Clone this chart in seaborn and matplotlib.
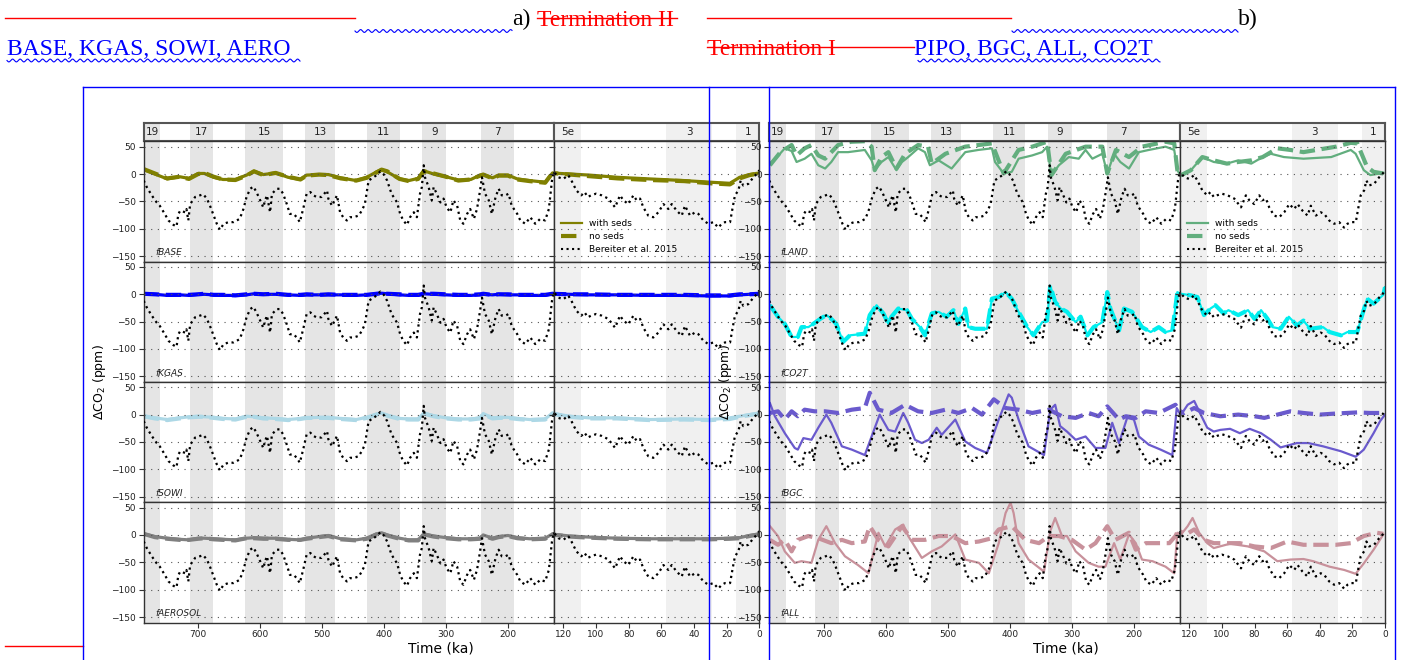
import numpy as np
import matplotlib
matplotlib.use("Agg")
import matplotlib.pyplot as plt
from matplotlib.lines import Line2D
import seaborn as sns

# ---------------------------------------------------------------- data
# Bereiter et al. 2015 (delta CO2 relative to pre-industrial, ppm) vs age (ka)
BER = [(788,-12),(783,-24),(775,-39),(767,-52),(762,-58),(754,-73),(748,-85),(740,-93),(735,-96),
       (732,-73),(729,-67),(721,-70),(719,-64),(716,-85),(713,-55),(705,-42),(697,-39),(692,-37),
       (686,-45),(681,-58),(676,-73),(670,-91),(665,-102),(659,-91),(651,-88),(643,-88),(633,-82),
       (627,-64),(622,-42),(616,-27),(611,-23),(606,-33),(600,-48),(595,-61),(592,-48),(589,-39),
       (584,-70),(581,-36),(573,-27),(568,-27),(563,-36),(557,-55),(552,-73),(546,-73),(541,-79),
       (536,-88),(530,-61),(525,-36),(519,-33),(514,-39),(509,-42),(501,-42),(492,-30),(490,-45),
       (484,-58),(476,-39),(471,-70),(466,-79),(460,-85),(455,-79),(449,-79),(441,-76),(436,-67),
       (431,-55),(425,-12),(417,-6),(412,-2),(406,5),(401,0),(395,-12),(388,-36),(379,-52),(374,-73),
       (369,-85),(363,-93),(358,-79),(352,-70),(347,-79),(342,-36),(339,-24),(336,16),(334,-6),
       (328,-24),(323,-48),(320,-24),(315,-36),(309,-52),(304,-45),(299,-61),(293,-70),(288,-48),
       (282,-58),(277,-85),(272,-91),(266,-73),(261,-64),(255,-82),(250,-64),(245,-30),(242,-6),
       (237,-36),(231,-48),(226,-73),(220,-42),(215,-27),(210,-39),(204,-39),(199,-36),(194,-58),
       (185,-73),(180,-85),(172,-91),(164,-79),(156,-91),(148,-82),(140,-85),(134,-64),(129,-12),
       (126,5),(123,-6),(120,-9),(117,-2),(115,-12),(112,-30),(109,-39),(107,-33),(105,-42),
       (103,-39),(100,-36),(96.5,-39),(92.4,-45),(88.3,-61),(85.3,-39),(83.2,-48),(80.2,-55),
       (77.1,-39),(75.1,-48),(73,-45),(71,-61),(68,-76),(64.9,-79),(61.8,-70),(58.7,-55),(55.7,-64),
       (53.6,-55),(50.6,-67),(47.5,-76),(45.5,-58),(42.4,-76),(39.4,-70),(37.3,-73),(34.2,-85),
       (31.2,-91),(28.1,-88),(25.1,-98),(23,-91),(21,-88),(17.9,-88),(16.3,-61),(14.9,-39),
       (12.8,-30),(11.4,-12),(9.8,-21),(6.7,-18),(3.6,-6),(1.6,0),(0,7)]

# panel a: model runs on a common age grid
A_AGE = [788,770,750,730,715,700,690,675,660,640,622,610,595,575,555,535,525,505,490,470,
         445,428,412,404,395,375,360,345,336,320,300,280,260,245,240,225,215,200,185,165,
         140,128,116,104,87,67,46,30,18,12,6,0]
BASE_SEDS = [8,0,-9,-5,-8,1,1,-6,-10,-10,-2,5,-1,2,-6,-10,-2,-1,-1,-7,-12,-6,4,8,4,-9,-12,-8,6,0,
             -5,-11,-10,-2,-1,-7,-2,-2,-9,-12,-15,2,0,-2,-6,-9,-12,-15,-17,-6,-1,2]
BASE_NOSEDS = [9,1,-8,-5,-9,0,2,-5,-10,-11,-3,5,-2,2,-5,-10,-3,-1,-2,-8,-12,-7,3,8,5,-9,-13,-9,5,1,
               -5,-12,-10,-3,-1,-8,-3,-3,-10,-13,-16,2,-1,-4,-8,-11,-13,-17,-19,-8,-2,1]
KGAS_SEDS = [1,0,-2,-1,-2,0,0,-1,-2,-2,-1,1,0,0,-1,-2,-1,-1,-1,-1,-2,-1,1,2,1,-1,-2,-2,1,0,
             -1,-2,-2,-1,0,-1,0,-1,-1,-2,-2,1,0,-1,-1,-2,-2,-3,-3,-1,0,1]
KGAS_NOSEDS = [1,0,-1,-1,-1,0,1,-1,-1,-2,0,1,0,1,-1,-1,0,-1,0,-1,-1,-1,1,2,1,0,-1,-1,1,1,
               0,-1,-1,0,1,-1,0,0,-1,-1,-1,1,0,0,-1,-1,-1,-2,-2,0,0,1]
SOWI_SEDS = [-2,-6,-9,-6,-4,-3,-4,-5,-7,-8,-3,-4,-6,-7,-9,-7,-6,-5,-5,-7,-9,-5,1,3,-1,-7,-8,-8,3,-2,
             -6,-8,-8,-6,2,-6,-5,-5,-7,-9,-8,3,-3,-6,-6,-9,-8,-9,-6,-3,0,3]
SOWI_NOSEDS = [-3,-7,-10,-7,-5,-4,-4,-6,-8,-9,-4,-4,-7,-8,-10,-8,-6,-6,-6,-8,-10,-6,0,2,-2,-8,-9,-9,2,-3,
               -7,-9,-9,-7,1,-7,-6,-6,-8,-10,-9,2,-4,-7,-7,-10,-9,-10,-8,-4,-1,2]
AERO_SEDS = [2,-3,-6,-8,-9,-6,-6,-7,-8,-9,-6,-5,-6,-6,-8,-9,-6,-3,-1,-7,-9,-6,2,4,0,-6,-9,-9,2,-2,
             -5,-7,-7,-6,0,-6,-3,-1,-5,-7,-6,2,-2,-4,-6,-7,-7,-7,-6,-5,-1,2]
AERO_NOSEDS = [2,-4,-7,-9,-9,-7,-6,-8,-9,-10,-6,-6,-7,-7,-9,-9,-7,-4,-2,-8,-10,-7,1,3,-1,-7,-10,-10,1,-3,
               -6,-8,-8,-7,-1,-7,-4,-2,-6,-8,-7,1,-3,-5,-7,-8,-8,-8,-7,-6,-2,1]

# panel b: (age, value) pairs
LAND_SEDS = [(787,19),(774,33),(763,47),(752,42),(744,22),(731,28),(720,37),(709,16),(698,10),(688,22),
             (677,40),(661,40),(634,44),(623,25),(618,7),(607,22),(596,31),(583,7),(574,22),(564,31),
             (548,47),(537,40),(529,16),(515,25),(494,10),(472,40),(451,44),(429,47),(424,22),(410,1),
             (397,4),(386,28),(364,34),(348,40),(340,50),(333,-2),(321,16),(305,31),(289,28),(278,44),
             (267,28),(251,37),(243,1),(232,37),(222,22),(208,10),(192,40),(176,44),(149,50),(135,44),
             (130,7),(125,-2),(119,7),(112,31),(105,22),(97,19),(90,25),(82,19),(75,31),(70,37),
             (62,31),(50,28),(33,31),(21,44),(18,37),(13,7),(9,-2),(1,2)]
LAND_NOSEDS = [(787,16),(770,40),(752,53),(744,34),(731,47),(720,53),(709,34),(698,28),(677,53),(656,59),
               (634,60),(623,50),(618,7),(607,31),(596,40),(583,10),(569,37),(548,53),(532,50),(526,19),
               (504,37),(472,50),(429,56),(410,1),(386,44),(364,50),(340,59),(333,-2),(310,37),(278,50),
               (251,50),(243,1),(229,44),(208,31),(187,50),(149,59),(135,56),(130,7),(125,-2),(119,7),
               (112,31),(105,25),(97,19),(90,22),(82,25),(75,31),(66,47),(58,44),(50,40),(40,45),
               (30,50),(21,57),(17,56),(11,13),(7,4),(1,1)]
CO2T_SEDS = [(787,-20),(774,-41),(763,-54),(752,-78),(742,-78),(736,-60),(725,-60),(717,-54),(706,-45),
             (696,-38),(688,-45),(680,-54),(669,-87),(658,-75),(634,-72),(626,-38),(615,-20),(604,-35),
             (596,-54),(591,-41),(580,-26),(566,-29),(558,-45),(545,-60),(537,-75),(526,-35),(515,-32),
             (502,-41),(491,-29),(483,-54),(472,-26),(467,-60),(456,-63),(437,-63),(429,-8),(418,-5),
             (407,4),(397,-8),(386,-32),(372,-60),(362,-75),(348,-51),(340,-48),(335,16),(327,-14),
             (318,-26),(308,-32),(294,-51),(286,-41),(275,-75),(265,-60),(251,-51),(243,4),(238,-26),
             (224,-66),(216,-26),(203,-32),(187,-60),(173,-69),(160,-60),(149,-69),(138,-66),(130,4),
             (125,1),(119,-2),(115,-5),(111,-38),(107,-26),(104,-20),(99,-35),(96,-29),(90,-38),(84,-29),
             (80,-45),(76,-29),(72,-45),(69,-60),(64,-63),(59,-41),(54,-57),(50,-48),(46,-63),(38,-60),
             (34,-69),(27,-75),(23,-69),(17,-69),(14,-38),(11,-8),(7,-17),(1,-1),(0,13)]
BGC_SEDS = [(787,21),(779,-3),(763,-34),(747,-61),(742,-64),(733,-43),(720,-46),(709,-24),(696,0),(688,-15),
            (671,-58),(655,-64),(634,-74),(623,-40),(610,0),(596,-28),(585,-31),(572,3),(564,-15),(553,-46),
            (542,-52),(531,-46),(518,-24),(510,-37),(488,-9),(472,-49),(456,-61),(437,-70),(418,-9),(402,37),
            (397,31),(386,-9),(370,-58),(345,-74),(335,9),(327,18),(319,-21),(308,-31),(294,-46),(278,-40),
            (262,-61),(246,-61),(235,-15),(224,-52),(211,-6),(200,-9),(192,-40),(176,-55),(157,-64),(138,-74),
            (131,12),(125,0),(121,18),(117,25),(113,0),(109,-24),(105,-31),(101,-28),(95,-26),(89,-34),
            (83,-26),(76,-34),(70,-46),(64,-60),(54,-52),(47,-52),(38,-58),(27,-67),(18,-77),(13,-64),
            (7,-34),(3,-12),(0,0)]
BGC_NOSEDS = [(787,3),(774,6),(763,-9),(752,6),(742,-3),(731,9),(715,6),(698,6),(677,3),(655,9),(634,12),
              (626,40),(612,9),(591,3),(569,18),(548,6),(526,3),(504,9),(483,3),(461,12),(445,0),(426,28),
              (407,12),(386,9),(364,3),(337,9),(316,-3),(294,-6),(273,3),(257,-3),(243,15),(224,-9),(213,-3),
              (197,-6),(181,6),(160,3),(133,18),(128,9),(123,3),(117,12),(111,3),(101,-3),(90,0),(80,-3),
              (74,-6),(66,0),(58,6),(50,3),(40,0),(30,2),(17,4),(9,3),(1,3)]
ALL_SEDS = [(787,16),(774,-2),(763,-30),(747,-51),(736,-48),(720,-51),(709,-9),(696,16),(682,-15),(666,-39),
            (645,-55),(628,-70),(612,4),(601,-21),(585,10),(572,19),(564,-2),(542,-42),(526,-30),(510,-21),
            (488,1),(472,-45),(450,-51),(434,-70),(418,-15),(407,40),(399,59),(394,40),(386,-15),(370,-45),
            (345,-67),(335,7),(327,31),(316,-2),(308,-2),(294,-30),(273,-51),(257,-58),(246,-58),(232,-15),
            (222,-45),(208,1),(197,-15),(187,-45),(170,-48),(149,-58),(135,-70),(130,4),(125,1),(121,16),
            (118,31),(114,4),(109,-15),(105,-24),(95,-16),(84,-21),(74,-30),(66,-48),(58,-45),(50,-44),
            (44,-48),(34,-58),(25,-64),(18,-71),(13,-52),(7,-27),(1,1)]
ALL_NOSEDS = [(787,-9),(774,-18),(763,-9),(752,-30),(742,-9),(725,-2),(709,-6),(688,-15),(671,-9),(655,-15),
              (634,-12),(626,16),(612,-9),(596,-21),(574,16),(558,-9),(537,-9),(515,-2),(494,-2),(472,-15),
              (450,-12),(429,-6),(418,10),(397,16),(375,-9),(353,-15),(337,-2),(321,-2),(300,-9),(278,-27),
              (262,-15),(243,16),(230,-9),(208,4),(197,-27),(181,-15),(160,-15),(143,-15),(133,-2),(128,10),
              (122,1),(117,10),(111,-9),(105,-15),(97,-15),(89,-15),(80,-21),(70,-24),(60,-12),(50,-18),
              (40,-18),(30,-18),(21,-15),(13,-2),(5,4),(1,2)]

SHADE_OLD = [(788,761),(714,676),(624,563),(527,479),(427,375),(338,300),(244,190)]
MIS_OLD = ["19","17","15","13","11","9","7"]
SHADE_YOUNG = [(126,109),(57,29),(14,0)]
MIS_YOUNG = ["5e","3","1"]
YTICKS = [-150,-100,-50,0,50]
XT_OLD = [700,600,500,400,300,200]
XT_YOUNG = [120,100,80,60,40,20,0]

LEG_LABELS = ["with seds","no seds","Bereiter et al. 2015"]

# ---------------------------------------------------------------- layout
W, H = 1403, 660
fig = plt.figure(figsize=(W/100, H/100), dpi=100)
fig.patch.set_facecolor("white")

def ax_px(x0, y0, x1, y1):
    return fig.add_axes([x0/W, 1-y1/H, (x1-x0)/W, (y1-y0)/H])

XLIM_OLD = (788, 125.7)
XLIM_YOUNG = (125.7, 0)
HEAD = (122.7, 141.2)
ROWS = [141.2, 261.5, 381.8, 502.1, 622.5]
SPINE = "#333333"

def pairs(p):
    a = np.array(p, float)
    return a[:, 0], a[:, 1]

ber_age, ber_val = pairs(BER)

def line(ax, x, y, color, lw, ls, z):
    sns.lineplot(x=np.asarray(x, float), y=np.asarray(y, float), ax=ax, color=color,
                 linewidth=lw, linestyle=ls, estimator=None, sort=False, legend=False, zorder=z)

panel_a = dict(x=(143.7, 554.0, 759.3), solid_lw=2.3, rows=[
    ("fBASE", "#808000", (A_AGE, BASE_SEDS), (A_AGE, BASE_NOSEDS)),
    ("fKGAS", "#0000ff", (A_AGE, KGAS_SEDS), (A_AGE, KGAS_NOSEDS)),
    ("fSOWI", "#add8e6", (A_AGE, SOWI_SEDS), (A_AGE, SOWI_NOSEDS)),
    ("fAEROSOL", "#808080", (A_AGE, AERO_SEDS), (A_AGE, AERO_NOSEDS))],
    xlabel_x=441, ylabel_x=100)
panel_b = dict(x=(769.3, 1180.0, 1385.0), solid_lw=1.6, rows=[
    ("fLAND", "#62ae7e", pairs(LAND_SEDS), pairs(LAND_NOSEDS)),
    ("fCO2T", "#00eeee", pairs(CO2T_SEDS), pairs(CO2T_SEDS)),
    ("fBGC", "#6a5acd", pairs(BGC_SEDS), pairs(BGC_NOSEDS)),
    ("fALL", "#c8919b", pairs(ALL_SEDS), pairs(ALL_NOSEDS))],
    xlabel_x=1066, ylabel_x=726)

for panel in (panel_a, panel_b):
    xL, xS, xR = panel["x"]
    subs = [(xL, xS, XLIM_OLD, SHADE_OLD, MIS_OLD, "#e5e5e5", XT_OLD),
            (xS, xR, XLIM_YOUNG, SHADE_YOUNG, MIS_YOUNG, "#f0f0f0", XT_YOUNG)]
    for (x0, x1, xlim, shades, mis, scol, xt) in subs:
        # header strip with MIS numbers
        hax = ax_px(x0, HEAD[0], x1, HEAD[1])
        for (a, b), lab in zip(shades, mis):
            hax.axvspan(a, b, color=scol, lw=0)
            hax.text((a + b) / 2, 0.5, lab, ha="center", va="center", fontsize=7.5, color="#222222")
        hax.set_xlim(*xlim)
        hax.set_ylim(0, 1)
        hax.set_xticks([]); hax.set_yticks([])
        for s in hax.spines.values():
            s.set_color("#555555"); s.set_linewidth(1.5)
        # data rows
        for i, (name, col, seds, noseds) in enumerate(panel["rows"]):
            ax = ax_px(x0, ROWS[i], x1, ROWS[i + 1])
            for (a, b) in shades:
                ax.axvspan(a, b, color=scol, lw=0, zorder=0)
            line(ax, noseds[0], noseds[1], col, 3.0, "--", 2)
            line(ax, seds[0], seds[1], col, panel["solid_lw"], "-", 2.5)
            line(ax, ber_age, ber_val, "black", 1.6, ":", 3)
            ax.set_xlim(*xlim)
            ax.set_ylim(-160, 60)
            ax.set_yticks(YTICKS)
            ax.set_xticks(xt)
            ax.set_xlabel(""); ax.set_ylabel("")
            ax.yaxis.grid(True, linestyle=(0, (1, 5)), color="#555555", lw=0.8)
            ax.set_axisbelow(False)
            ax.tick_params(labelsize=6.5, length=3.5, width=0.8, color=SPINE, labelcolor="#222222", pad=2)
            if x0 != xL:
                ax.set_yticklabels([])
            if i < 3:
                ax.tick_params(axis="x", bottom=False, labelbottom=False)
            for s in ax.spines.values():
                s.set_color(SPINE); s.set_linewidth(1.0)
            if x0 == xL:
                ax.text(0.028, 0.035, name, transform=ax.transAxes, fontsize=6.5,
                        style="italic", color="#222222", va="bottom", ha="left")
            if i == 0 and x0 != xL:
                handles = [Line2D([], [], color=col, lw=1.6, ls="-"),
                           Line2D([], [], color=col, lw=3.0, ls="--"),
                           Line2D([], [], color="black", lw=1.5, ls=":")]
                ax.legend(handles, LEG_LABELS, loc="lower left", bbox_to_anchor=(0.0, 0.0),
                          frameon=False, fontsize=6.5, handlelength=2.3, borderaxespad=0.4,
                          labelspacing=0.45, handletextpad=0.8)
    fig.text(panel["xlabel_x"]/W, 1-648/H, "Time (ka)", ha="center", va="center", fontsize=10)
    fig.text(panel["ylabel_x"]/W, 1-382/H, "ΔCO$_2$ (ppm)", rotation=90,
             ha="center", va="center", fontsize=9)

# ---------------------------------------------------------------- document markup overlay
def hline(x0, x1, y, color):
    fig.add_artist(Line2D([x0/W, x1/W], [1-y/H, 1-y/H], color=color, lw=1.0,
                          transform=fig.transFigure, zorder=20))

def vline(x, y0, y1, color):
    fig.add_artist(Line2D([x/W, x/W], [1-y0/H, 1-y1/H], color=color, lw=1.0,
                          transform=fig.transFigure, zorder=20))

def wave(x0, x1, y, period=7.5, amp=1.4):
    xs = np.arange(x0, x1 + 0.25, 0.5)
    ys = y + amp*np.sin(2*np.pi*(xs - x0)/period)
    fig.add_artist(Line2D(xs/W, 1-ys/H, color="blue", lw=0.8,
                          transform=fig.transFigure, zorder=20))

serif = "Liberation Serif"
fs = 17
fig.text(512/W, 1-25.5/H, "a)", color="black", fontsize=fs, family=serif, va="baseline")
fig.text(537/W, 1-25.5/H, "Termination II", color="red", fontsize=fs, family=serif, va="baseline")
fig.text(1238/W, 1-25.5/H, "b)", color="black", fontsize=fs, family=serif, va="baseline")
fig.text(7/W, 1-55/H, "BASE, KGAS, SOWI, AERO", color="blue", fontsize=fs, family=serif, va="baseline")
fig.text(707/W, 1-55/H, "Termination I", color="red", fontsize=fs, family=serif, va="baseline")
fig.text(914/W, 1-55/H, "PIPO, BGC, ALL, CO2T", color="blue", fontsize=fs, family=serif, va="baseline")

hline(5, 355, 18, "red")
hline(537, 677, 18, "red")
hline(707, 1011, 18, "red")
hline(707, 914, 47, "red")
hline(5, 83, 646, "red")
wave(355, 512, 31)
wave(1012, 1238, 31)
wave(7, 300, 60.5)
wave(918, 1160, 60.5)

hline(83, 1395, 87, "blue")
vline(83, 87, 660, "blue")
vline(709, 87, 660, "blue")
vline(769, 87, 660, "blue")
vline(1395, 87, 660, "blue")

fig.savefig("out.png", dpi=100, facecolor="white")
